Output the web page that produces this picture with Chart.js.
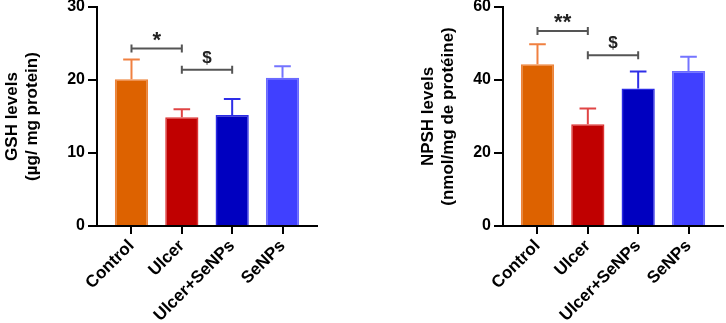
<!DOCTYPE html>
<html>
<head>
<meta charset="utf-8">
<script src="https://cdn.jsdelivr.net/npm/chart.js@4.4.1/dist/chart.umd.min.js"></script>
<style>
  body { margin: 0; background: #fff; }
  .box { position: absolute; top: 0; width: 363px; height: 323px; }
  #left { left: 0; }
  #right { left: 363px; }
</style>
</head>
<body>
<div class="box" id="left"><canvas id="gshChart"></canvas></div>
<div class="box" id="right"><canvas id="npshChart"></canvas></div>
<script>
const groups = ['Control', 'Ulcer', 'Ulcer+SeNPs', 'SeNPs'];

const gshMean = [20.1, 14.9, 15.2, 20.3];
const gshErr = [2.7, 1.1, 2.2, 1.6];
const gshTitle = ['GSH levels', '(µg/ mg protein)'];
const gshSig = [
    { from: 0, to: 1, y: 24.3, text: '*' },
    { from: 1, to: 2, y: 21.4, text: '$' }
];

const npshMean = [44.3, 27.9, 37.7, 42.5];
const npshErr = [5.5, 4.3, 4.6, 3.9];
const npshTitle = ['NPSH levels', '(nmol/mg de protéine)'];
const npshSig = [
    { from: 0, to: 1, y: 53.4, text: '**' },
    { from: 1, to: 2, y: 46.8, text: '$' }
];

const fills = ['#dd6200', '#c00000', '#0000c0', '#4040ff'];
const edges = ['#ee8238', '#dd3333', '#2a2ae6', '#6a6aff'];
const whiskers = ['#f08040', '#e04545', '#2e2ee8', '#7474ff'];

Chart.defaults.font.family = '"Liberation Sans", Arial, sans-serif';
Chart.defaults.color = '#000';

// error bars + significance brackets
const extras = {
    id: 'extras',
    afterDatasetsDraw(chart, args, opts) {
        const { ctx, scales: { x, y } } = chart;
        const bars = chart.getDatasetMeta(0).data;
        ctx.save();
        ctx.lineWidth = 2;
        opts.err.forEach((e, i) => {
            const b = bars[i];
            const top = y.getPixelForValue(opts.mean[i] + e);
            const half = b.width / 4;
            ctx.strokeStyle = whiskers[i];
            ctx.beginPath();
            ctx.moveTo(b.x, b.y);
            ctx.lineTo(b.x, top);
            ctx.moveTo(b.x - half, top);
            ctx.lineTo(b.x + half, top);
            ctx.stroke();
        });
        ctx.strokeStyle = '#555';
        ctx.fillStyle = '#222';
        ctx.textAlign = 'center';
        ctx.textBaseline = 'alphabetic';
        opts.sig.forEach(m => {
            const x1 = x.getPixelForValue(m.from);
            const x2 = x.getPixelForValue(m.to);
            const yy = y.getPixelForValue(m.y);
            ctx.beginPath();
            ctx.moveTo(x1, yy); ctx.lineTo(x2, yy);
            ctx.moveTo(x1, yy - 4); ctx.lineTo(x1, yy + 4);
            ctx.moveTo(x2, yy - 4); ctx.lineTo(x2, yy + 4);
            ctx.stroke();
            const star = m.text.includes('*');
            ctx.font = 'bold ' + (star ? 22 : 17) + 'px "Liberation Sans", Arial, sans-serif';
            ctx.fillText(m.text, (x1 + x2) / 2, star ? yy - 2 : yy - 7);
        });
        ctx.restore();
    }
};

function makeChart(id, mean, err, yMax, yStep, title, sig, yWidth, titlePad, padRight) {
    new Chart(document.getElementById(id), {
        type: 'bar',
        data: {
            datasets: [{
                data: mean.map((v, i) => ({ x: i, y: v })),
                backgroundColor: fills,
                borderColor: edges,
                borderWidth: 1.5,
                barPercentage: 0.66,
                categoryPercentage: 1
            }]
        },
        options: {
            responsive: true,
            maintainAspectRatio: false,
            animation: false,
            layout: { padding: { top: 7, right: padRight, left: 0, bottom: 0 } },
            plugins: {
                legend: { display: false },
                tooltip: { enabled: false },
                extras: { mean: mean, err: err, sig: sig }
            },
            scales: {
                x: {
                    type: 'linear',
                    offset: false,
                    min: -0.685,
                    max: 3.685,
                    afterBuildTicks: s => { s.ticks = groups.map((g, i) => ({ value: i })); },
                    afterFit: s => { s.height = 97; s.paddingLeft = 0; s.paddingRight = 0; },
                    border: { display: true, color: '#000', width: 2 },
                    grid: { offset: false, drawOnChartArea: false, drawTicks: true, tickLength: 8, color: '#000', lineWidth: 2 },
                    ticks: {
                        callback: v => groups[v],
                        maxRotation: 45,
                        minRotation: 45,
                        padding: 2,
                        color: '#000',
                        font: { size: 17, weight: 'bold' }
                    }
                },
                y: {
                    min: 0,
                    max: yMax,
                    afterFit: s => { s.width = yWidth; s.paddingTop = 0; s.paddingBottom = 0; },
                    border: { display: true, color: '#000', width: 2 },
                    grid: { drawOnChartArea: false, drawTicks: true, tickLength: 9, color: '#000', lineWidth: 2 },
                    ticks: {
                        stepSize: yStep,
                        padding: 3,
                        color: '#000',
                        font: { size: 16, weight: 'bold' }
                    },
                    title: {
                        display: true,
                        text: title,
                        color: '#000',
                        font: { size: 17, weight: 'bold', lineHeight: 1.2 },
                        padding: { top: titlePad, bottom: 0 }
                    }
                }
            }
        },
        plugins: [extras]
    });
}

makeChart('gshChart', gshMean, gshErr, 30, 10, gshTitle, gshSig, 97, 2, 46);
makeChart('npshChart', npshMean, npshErr, 60, 20, npshTitle, npshSig, 140, 55, 3);
</script>
</body>
</html>
